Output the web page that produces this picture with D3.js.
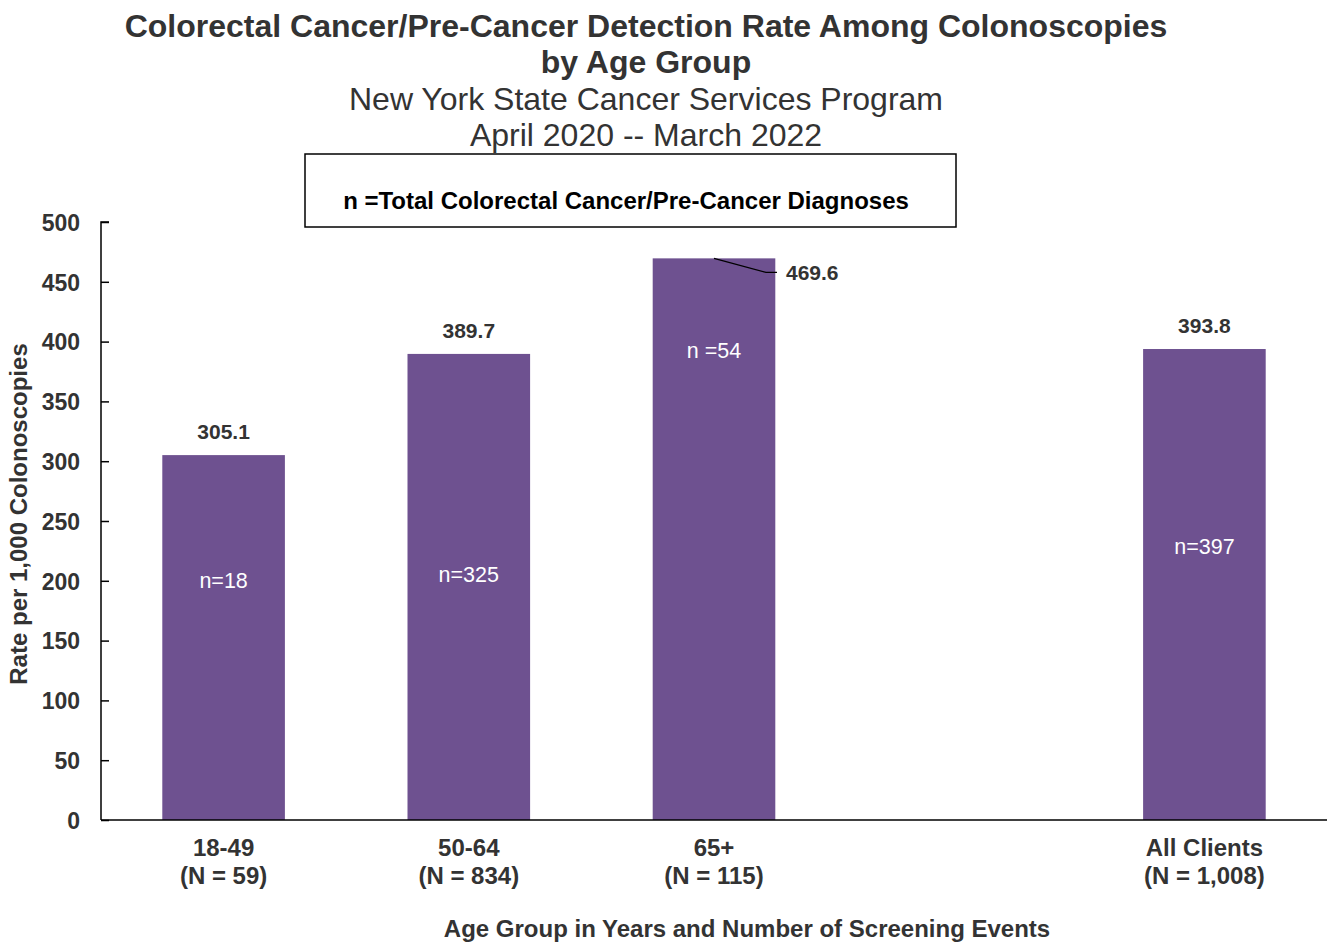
<!DOCTYPE html>
<html>
<head>
<meta charset="utf-8">
<script src="https://cdn.jsdelivr.net/npm/d3@7"></script>
<style>
  html, body { margin: 0; padding: 0; background: #fff; }
  svg text { font-family: "Liberation Sans", Arial, sans-serif; }
</style>
</head>
<body>
<svg id="chart" width="1327" height="942"></svg>
<script>
// Age groups (one empty slot before the overall total)
const categories = ["18-49", "50-64", "65+", "", "All Clients"];
const screeningCounts = ["(N = 59)", "(N = 834)", "(N = 115)", "", "(N = 1,008)"];
const rates = [305.1, 389.7, 469.6, null, 393.8];
const diagnoses = ["n=18", "n=325", "n =54", "", "n=397"];
// vertical position of each n label, as a value on the rate axis
const diagnosisLabelAt = [200, 205, 392, null, 228];
const yTicks = [0, 50, 100, 150, 200, 250, 300, 350, 400, 450, 500];

const svg = d3.select("#chart");
const margin = { left: 101, right: 0, top: 222, bottom: 122 };
const W = 1327, H = 942;
const textColor = "#333333";
const barColor = "#6e5190";

const x = d3.scaleBand()
  .domain(d3.range(categories.length))
  .range([margin.left, W - margin.right])
  .paddingInner(0.5)
  .paddingOuter(0.25);

const y = d3.scaleLinear().domain([0, 500]).range([H - margin.bottom, margin.top]);

// Title block
const title = svg.append("g").attr("text-anchor", "middle").attr("fill", textColor);
title.append("text").attr("x", 646).attr("y", 37).attr("font-size", 32).attr("font-weight", "bold")
  .text("Colorectal Cancer/Pre-Cancer Detection Rate Among Colonoscopies");
title.append("text").attr("x", 646).attr("y", 73).attr("font-size", 32).attr("font-weight", "bold")
  .text("by Age Group");
title.append("text").attr("x", 646).attr("y", 110).attr("font-size", 32)
  .text("New York State Cancer Services Program");
title.append("text").attr("x", 646).attr("y", 146).attr("font-size", 32)
  .text("April 2020 -- March 2022");

// Legend box
svg.append("rect").attr("x", 305).attr("y", 154).attr("width", 651).attr("height", 73)
  .attr("fill", "#fff").attr("stroke", "#000").attr("stroke-width", 1.5);
svg.append("text").attr("x", 626).attr("y", 209).attr("text-anchor", "middle")
  .attr("font-size", 24).attr("font-weight", "bold").attr("fill", "#000")
  .text("n =Total Colorectal Cancer/Pre-Cancer Diagnoses");

// Bars
const bars = categories.map((c, i) => ({ i, c, v: rates[i] })).filter(d => d.v != null);
svg.append("g").selectAll("rect").data(bars).join("rect")
  .attr("x", d => x(d.i)).attr("width", x.bandwidth())
  .attr("y", d => y(d.v)).attr("height", d => y(0) - y(d.v))
  .attr("fill", barColor);

// Y axis
const yAxis = svg.append("g").attr("transform", `translate(${margin.left},0)`)
  .call(d3.axisRight(y).tickValues(yTicks).tickSize(8).tickFormat(d3.format("d")));
yAxis.select(".domain").attr("stroke", "#000").attr("stroke-width", 1.5).attr("d", `M8,${y(500)}H0V${y(0)}`);
yAxis.selectAll(".tick line").attr("stroke", "#000").attr("stroke-width", 1.5);
yAxis.selectAll(".tick text").attr("x", -21).attr("dy", "0.36em").attr("text-anchor", "end")
  .attr("font-size", 23).attr("font-weight", "bold").attr("fill", textColor);

// X axis line
svg.append("line").attr("x1", margin.left).attr("x2", W).attr("y1", y(0)).attr("y2", y(0))
  .attr("stroke", "#000").attr("stroke-width", 1.5);

// Category labels
const cats = svg.append("g").attr("text-anchor", "middle").attr("font-size", 24)
  .attr("font-weight", "bold").attr("fill", textColor);
categories.forEach((c, i) => {
  if (!c) return;
  const cx = x(i) + x.bandwidth() / 2;
  cats.append("text").attr("x", cx).attr("y", 856).text(c);
  cats.append("text").attr("x", cx).attr("y", 884).text(screeningCounts[i]);
});

// Value labels
bars.forEach(d => {
  const cx = x(d.i) + x.bandwidth() / 2;
  if (d.i === 2) {
    // label pushed out to the right with a leader line
    svg.append("polyline")
      .attr("points", `${cx},${y(d.v)} ${cx + 52},${y(d.v) + 14} ${cx + 63},${y(d.v) + 14}`)
      .attr("fill", "none").attr("stroke", "#000").attr("stroke-width", 1.2);
    svg.append("text").attr("x", cx + 72).attr("y", y(d.v) + 22)
      .attr("font-size", 21).attr("font-weight", "bold").attr("fill", textColor)
      .text(d3.format(".1f")(d.v));
  } else {
    svg.append("text").attr("x", cx).attr("y", y(d.v) - 16).attr("text-anchor", "middle")
      .attr("font-size", 21).attr("font-weight", "bold").attr("fill", textColor)
      .text(d3.format(".1f")(d.v));
  }
  svg.append("text").attr("x", cx).attr("y", y(diagnosisLabelAt[d.i]) + 7).attr("text-anchor", "middle")
    .attr("font-size", 21.5).attr("fill", "#fff").text(diagnoses[d.i]);
});

// Axis titles
svg.append("text").attr("transform", `translate(27,${514}) rotate(-90)`).attr("text-anchor", "middle")
  .attr("font-size", 24).attr("font-weight", "bold").attr("fill", textColor)
  .text("Rate per 1,000 Colonoscopies");
svg.append("text").attr("x", 747).attr("y", 937).attr("text-anchor", "middle")
  .attr("font-size", 24).attr("font-weight", "bold").attr("fill", textColor)
  .text("Age Group in Years and Number of Screening Events");
</script>
</body>
</html>
